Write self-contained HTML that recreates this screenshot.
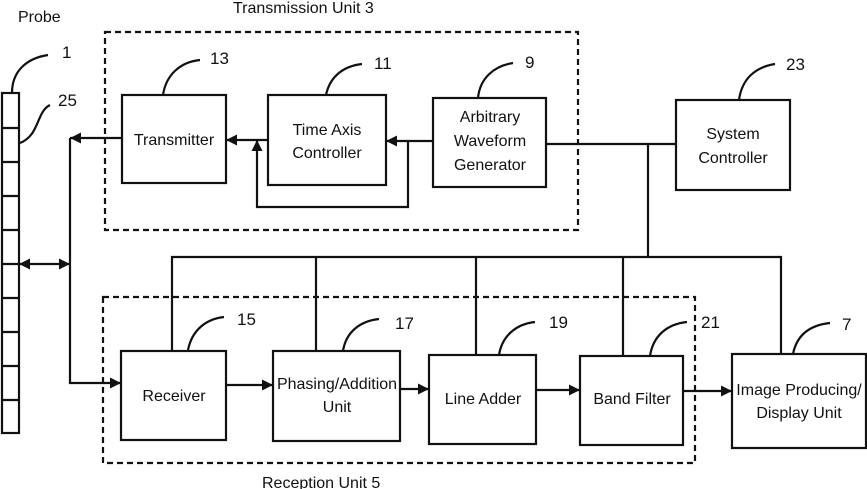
<!DOCTYPE html>
<html><head><meta charset="utf-8"><style>
html,body{margin:0;padding:0;background:#fff;}
svg{display:block;}
text{font-family:"Liberation Sans",Arial,sans-serif;font-size:16px;fill:#111;}
text.n{font-size:17px;}
</style></head><body>
<svg width="867" height="489" viewBox="0 0 867 489" xmlns="http://www.w3.org/2000/svg">
<defs>
<marker id="a" viewBox="0 0 10 10" refX="10" refY="5" markerWidth="11" markerHeight="11" markerUnits="userSpaceOnUse" orient="auto-start-reverse"><path d="M0,0L10,5L0,10z" fill="#111"/></marker>
</defs>
<g stroke="#111" stroke-width="2.2" fill="none">
<rect x="2" y="93" width="17" height="340"/>
<path d="M2,128h17M2,162h17M2,196h17M2,230h17M2,264h17M2,298h17M2,332h17M2,366h17M2,400h17"/>
<rect x="105" y="32" width="473" height="198" stroke-dasharray="6,4"/>
<rect x="103" y="297" width="592" height="166" stroke-dasharray="6,4"/>
<rect x="122" y="95" width="104" height="88"/>
<rect x="268" y="95" width="118" height="90"/>
<rect x="433" y="98" width="113" height="89"/>
<rect x="676" y="100" width="114" height="90"/>
<rect x="121" y="351" width="105" height="89"/>
<rect x="273" y="351" width="127" height="90"/>
<rect x="429" y="355" width="107" height="89"/>
<rect x="580" y="356" width="103" height="89"/>
<rect x="732" y="354" width="134" height="94"/>
<path d="M433,141H386" marker-end="url(#a)"/>
<path d="M268,140H226" marker-end="url(#a)"/>
<path d="M408,141V207H257V140" marker-end="url(#a)"/>
<path d="M122,138H70" marker-end="url(#a)"/>
<path d="M70,138V383H121" marker-end="url(#a)"/>
<path d="M19,264H70" marker-start="url(#a)" marker-end="url(#a)"/>
<path d="M226,385H273" marker-end="url(#a)"/>
<path d="M400,389H429" marker-end="url(#a)"/>
<path d="M536,390H580" marker-end="url(#a)"/>
<path d="M683,391H732" marker-end="url(#a)"/>
<path d="M546,144H676M648,144V257"/>
<path d="M172,351V257H781V354"/>
<path d="M316,257V351M476,257V355M623,257V356"/>
<path d="M12,93C12,70 28,58 48,55"/>
<path d="M20,143C40,135 36,112 50,105"/>
<path d="M163,95C166,75 180,62 200,60"/>
<path d="M326,95C330,76 344,66 362,64"/>
<path d="M478,98C480,78 494,66 513,63"/>
<path d="M739,100C742,78 756,67 775,64"/>
<path d="M188,350C192,330 206,319 224,317"/>
<path d="M343,351C346,332 360,321 379,319"/>
<path d="M499,355C502,336 516,324 535,322"/>
<path d="M650,356C653,336 667,324 687,322"/>
<path d="M793,354C797,334 811,325 830,323"/>
</g>
<text x="18" y="22">Probe</text>
<text x="233" y="13">Transmission Unit 3</text>
<text x="262" y="488">Reception Unit 5</text>
<text class="n" x="62" y="58">1</text>
<text class="n" x="58" y="106">25</text>
<text class="n" x="210" y="64">13</text>
<text class="n" x="374" y="69">11</text>
<text class="n" x="525" y="68">9</text>
<text class="n" x="786" y="70">23</text>
<text class="n" x="237" y="325">15</text>
<text class="n" x="395" y="329">17</text>
<text class="n" x="549" y="328">19</text>
<text class="n" x="701" y="328">21</text>
<text class="n" x="842" y="330">7</text>
<g text-anchor="middle">
<text x="174" y="145">Transmitter</text>
<text x="327" y="135">Time Axis</text>
<text x="327" y="158">Controller</text>
<text x="490" y="122">Arbitrary</text>
<text x="490" y="146">Waveform</text>
<text x="490" y="170">Generator</text>
<text x="733" y="139">System</text>
<text x="733" y="163">Controller</text>
<text x="174" y="401">Receiver</text>
<text x="337" y="389">Phasing/Addition</text>
<text x="337" y="412">Unit</text>
<text x="483" y="404">Line Adder</text>
<text x="632" y="404">Band Filter</text>
<text x="799" y="395">Image Producing/</text>
<text x="799" y="418">Display Unit</text>
</g>
</svg>
</body></html>
